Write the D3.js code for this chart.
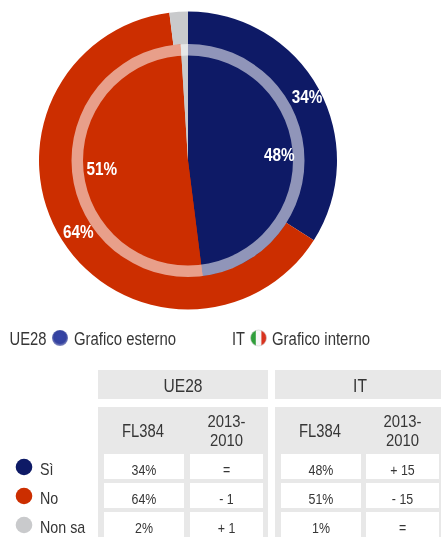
<!DOCTYPE html>
<html>
<head>
<meta charset="utf-8">
<style>
  html, body { margin: 0; padding: 0; background: #fff; }
  svg { display: block; filter: blur(0.35px); }
  text { font-family: "Liberation Sans", Arial, sans-serif; fill: #363636; }
</style>
<script src="https://cdn.jsdelivr.net/npm/d3@7"></script>
</head>
<body>
<svg id="chart" width="441" height="537"></svg>
<script>
// values
var answers = ['Sì', 'No', 'Non sa']
var outerValues = [34, 64, 2]   // UE28
var innerValues = [48, 51, 1]   // IT
var groups = ['UE28', 'IT']
var columns = ['FL384', '2013-\n2010']
var rowsUE = [['34%', '='], ['64%', '- 1'], ['2%', '+ 1']]
var rowsIT = [['48%', '+ 15'], ['51%', '- 15'], ['1%', '=']]
var colors = ['#0e1a66', '#cc2e00', '#c9cacc']

var svg = d3.select('#chart')
var cx = 188, cy = 160.5

var pie = d3.pie().sort(null).value(function(d){ return d })
var color = d3.scaleOrdinal().domain(answers).range(colors)

function arcFor(rIn, rOut){ return d3.arc().innerRadius(rIn).outerRadius(rOut) }

// the original type is a little condensed, so squeeze text to a share of its width
function squeeze(sel, k){
  var len = sel.node().getComputedTextLength()
  sel.attr('textLength', len * k).attr('lengthAdjust', 'spacingAndGlyphs')
  return sel
}

var g = svg.append('g').attr('transform', 'translate(' + cx + ',' + cy + ')')

// outer pie, inner pie on top, then the pale ring
function drawPie(values, r){
  g.append('g').selectAll('path')
    .data(pie(values)).enter()
    .append('path')
    .attr('d', arcFor(0, r))
    .attr('fill', function(d, i){ return color(answers[i]) })
}
drawPie(outerValues, 149)
drawPie(innerValues, 116.5)

g.append('path')
  .attr('d', arcFor(105, 116.5)({startAngle: 0, endAngle: Math.PI * 2}))
  .attr('fill', '#fff')
  .attr('fill-opacity', 0.54)

// slice labels sit on the middle angle of each slice
function drawLabels(values, r){
  var labelArc = arcFor(r, r)
  pie(values).forEach(function(d, i){
    if (i > 1) return
    var p = labelArc.centroid(d)
    var t = g.append('text')
      .attr('x', p[0] + 2.5).attr('y', p[1])
      .attr('dy', '0.36em')
      .attr('text-anchor', 'middle')
      .attr('font-size', 18)
      .attr('font-weight', 'bold')
      .style('fill', '#fff')
      .text(d.value + '%')
    squeeze(t, 0.85)
  })
}
drawLabels(outerValues, 133)
drawLabels(innerValues, 89)

// flag icons
var defs = svg.append('defs')
var eu = defs.append('radialGradient').attr('id', 'euFlag').attr('cx', '50%').attr('cy', '45%').attr('r', '55%')
eu.append('stop').attr('offset', '0%').attr('stop-color', '#3645a8')
eu.append('stop').attr('offset', '70%').attr('stop-color', '#34429f')
eu.append('stop').attr('offset', '100%').attr('stop-color', '#8d93c4')
var it = defs.append('linearGradient').attr('id', 'itFlag')
;[['0%', '#2f9e3a'], ['30%', '#2f9e3a'], ['36%', '#f6f6f6'], ['64%', '#f6f6f6'], ['72%', '#d8331f'], ['100%', '#d8331f']].forEach(function(s){
  it.append('stop').attr('offset', s[0]).attr('stop-color', s[1])
})

var legend = svg.append('g').attr('font-size', 17.5)
function legendText(x, s, w){
  return legend.append('text').attr('x', x).attr('y', 344.5)
    .attr('textLength', w).attr('lengthAdjust', 'spacingAndGlyphs').text(s)
}
legendText(9.5, 'UE28', 37)
legend.append('circle').attr('cx', 60).attr('cy', 338).attr('r', 8).attr('fill', 'url(#euFlag)')
legendText(74, 'Grafico esterno', 102)
legendText(232, 'IT', 13)
legend.append('circle').attr('cx', 258.5).attr('cy', 338).attr('r', 8).attr('fill', 'url(#itFlag)').attr('stroke', '#cfcfcf').attr('stroke-width', 0.6)
legendText(272, 'Grafico interno', 98)

// table
var grey = '#e8e8e8'
var table = svg.append('g')
var rowY = d3.scaleBand().domain(answers).range([454, 537]).paddingInner(4 / 29).paddingOuter(0)

function centerText(x, y, s, size, k){
  var t = table.append('text').attr('x', x).attr('y', y).attr('dy', '0.36em')
    .attr('text-anchor', 'middle').attr('font-size', size).text(s)
  return squeeze(t, k)
}

function drawBlock(name, x0, x1, colX, rows){
  table.append('rect').attr('x', x0).attr('y', 370).attr('width', x1 - x0).attr('height', 29).attr('fill', grey)
  table.append('rect').attr('x', x0).attr('y', 407).attr('width', x1 - x0).attr('height', 130).attr('fill', grey)
  centerText(name == 'IT' ? 360 : 183, 385.5, name, 19, 0.82)

  colX.forEach(function(c, j){
    var mid = (c[0] + c[1]) / 2
    columns[j].split('\n').forEach(function(line, k, all){
      if (all.length > 1) centerText(mid, 421.5 + k * 18.5, line, 16.5, 0.9)
      else centerText(mid - 1, 431, line, 18, 0.82)
    })
    answers.forEach(function(a, i){
      table.append('rect').attr('x', c[0]).attr('y', rowY(a)).attr('width', c[1] - c[0]).attr('height', rowY.bandwidth()).attr('fill', '#fff')
      centerText(mid, rowY(a) + 15, rows[i][j], 15.5, 0.8)
    })
  })
}
drawBlock(groups[0], 98, 268, [[104, 184], [190, 263]], rowsUE)
drawBlock(groups[1], 275, 441, [[281, 361], [366, 439]], rowsIT)

// row keys
answers.forEach(function(a){
  var y = rowY(a) + 13
  svg.append('circle').attr('cx', 24).attr('cy', y).attr('r', 8.3).attr('fill', color(a))
  var t = svg.append('text').attr('x', 40).attr('y', y + 2).attr('dy', '0.36em').attr('font-size', 17).text(a)
  squeeze(t, 0.84)
})
</script>
</body>
</html>
